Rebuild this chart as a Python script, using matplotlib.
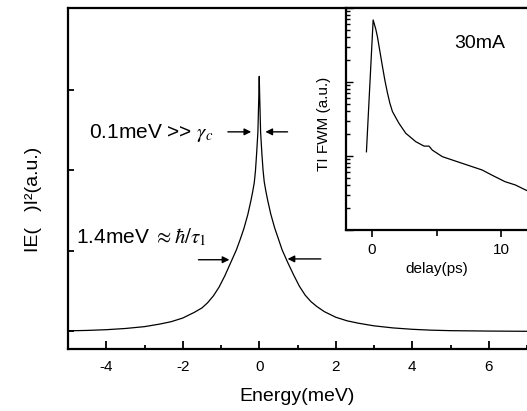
import matplotlib.pyplot as plt
from matplotlib.ticker import MultipleLocator, FixedLocator, NullFormatter

plt.rcParams['font.family'] = ['Liberation Sans', 'DejaVu Sans']
plt.rcParams['mathtext.fontset'] = 'stix'
plt.rcParams['axes.unicode_minus'] = False

# spectrum |E(w)|^2
energy = [-5.0, -4.5, -4.0, -3.5, -3.0, -2.6, -2.3, -2.0, -1.7, -1.5, -1.35, -1.2,
          -1.05, -0.9, -0.75, -0.6, -0.5, -0.4, -0.3, -0.22, -0.17, -0.13, -0.10, -0.07,
          -0.035, -0.01, 0.0,
          0.01, 0.035, 0.07, 0.10, 0.13, 0.17, 0.22, 0.3, 0.4, 0.5, 0.6, 0.75, 0.9, 1.05,
          1.2, 1.35, 1.5, 1.7, 2.0, 2.3, 2.6, 3.0, 3.5, 4.0, 4.5, 5.0, 6.0, 7.0]
intensity = [0.006, 0.011, 0.02, 0.035, 0.058, 0.09, 0.12, 0.165, 0.235, 0.29, 0.355, 0.44,
             0.55, 0.69, 0.85, 1.01, 1.14, 1.28, 1.45, 1.62, 1.74, 1.85, 1.99, 2.20,
             2.48, 2.95, 3.17,
             2.95, 2.48, 2.20, 2.00, 1.86, 1.75, 1.63, 1.46, 1.29, 1.15, 1.01, 0.85, 0.70, 0.56,
             0.45, 0.37, 0.31, 0.245, 0.175, 0.13, 0.10, 0.068, 0.042, 0.025, 0.014, 0.008,
             0.003, 0.0]

# inset: TI FWM vs delay (log scale)
delay = [-0.42, 0.1, 0.3, 0.43, 0.56, 0.82, 1.0, 1.2, 1.39, 1.59, 1.85, 2.1, 2.62, 3.4,
         4.04, 4.42, 4.68, 5.45, 6.99, 8.53, 9.3, 10.3, 11.1, 11.9, 12.2]
fwm = [11.4, 690, 520, 410, 300, 162, 107, 72, 52, 40, 33, 27.6, 20.3, 15.6,
       13.6, 13.6, 12.0, 9.8, 7.96, 6.47, 5.5, 4.5, 4.06, 3.47, 3.3]

W, H = 527, 411
fig = plt.figure(figsize=(W / 100, H / 100), dpi=100)

ax = fig.add_axes([68 / W, 1 - 349 / H, 1 - 68 / W, (349 - 8) / H])
ax.plot(energy, intensity, color='black', lw=0.9)
ax.set_xlim(-5, 7)
ax.set_ylim(-0.22, 4.02)
ax.xaxis.set_major_locator(MultipleLocator(2))
ax.xaxis.set_minor_locator(MultipleLocator(1))
ax.yaxis.set_major_locator(FixedLocator([0, 1, 2, 3]))
ax.yaxis.set_major_formatter(NullFormatter())
ax.tick_params(which='both', direction='in', width=1.3, labelsize=11)
ax.tick_params(axis='x', which='major', length=6, pad=8)
ax.tick_params(axis='x', which='minor', length=3)
ax.tick_params(axis='y', which='major', length=4.5)
for s in ['left', 'bottom', 'top']:
    ax.spines[s].set_linewidth(1.6)
ax.spines['right'].set_visible(False)
ax.set_xlabel('Energy(meV)', fontsize=14, labelpad=10)
ax.set_ylabel('IE(   )I²(a.u.)', fontsize=14)
ax.yaxis.set_label_coords(-0.056, 0.44)

arrow = dict(arrowstyle='-|>', color='black', lw=1.0, mutation_scale=10,
             shrinkA=0, shrinkB=0)
ax.text(-4.46, 2.40, r'0.1meV >> $\gamma_c$', fontsize=15, va='baseline')
ax.annotate('', xy=(-0.21, 2.48), xytext=(-0.82, 2.48), arrowprops=arrow)
ax.annotate('', xy=(0.16, 2.48), xytext=(0.74, 2.48), arrowprops=arrow)
ax.text(-4.78, 1.10, r'1.4meV $\approx\hbar/\tau_1$', fontsize=15, va='baseline')
ax.annotate('', xy=(-0.78, 0.89), xytext=(-1.59, 0.89), arrowprops=arrow)
ax.annotate('', xy=(0.74, 0.90), xytext=(1.61, 0.90), arrowprops=arrow)

ins = fig.add_axes([346 / W, 1 - 230 / H, 1 - 346 / W, (230 - 8) / H])
ins.semilogy(delay, fwm, color='black', lw=0.9)
ins.set_xlim(-2, 12)
ins.set_ylim(1, 1000)
ins.xaxis.set_major_locator(FixedLocator([0, 10]))
ins.xaxis.set_minor_locator(FixedLocator([5]))
ins.yaxis.set_major_formatter(NullFormatter())
ins.yaxis.set_minor_formatter(NullFormatter())
ins.tick_params(axis='x', which='both', direction='out', width=1.2, labelsize=11, pad=4)
ins.tick_params(axis='x', which='major', length=5)
ins.tick_params(axis='x', which='minor', length=4)
ins.tick_params(axis='y', which='both', direction='in', width=1.0)
ins.tick_params(axis='y', which='major', length=5)
ins.tick_params(axis='y', which='minor', length=3)
for s in ['left', 'bottom', 'top']:
    ins.spines[s].set_linewidth(1.6)
ins.spines['right'].set_visible(False)
ins.set_xlabel('delay(ps)', fontsize=11, labelpad=4)
ins.set_ylabel('TI FWM (a.u.)', fontsize=11)
ins.yaxis.set_label_coords(-0.085, 0.48)
ins.text(0.597, 0.842, '30mA', transform=ins.transAxes, fontsize=14, va='center')

fig.savefig('out.png', dpi=100)
